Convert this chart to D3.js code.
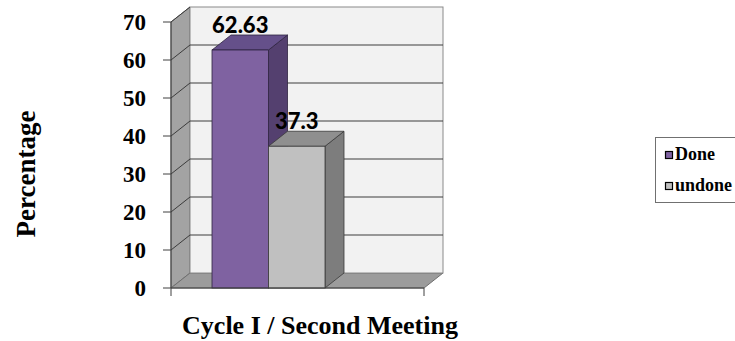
<!DOCTYPE html>
<html>
<head>
<meta charset="utf-8">
<script src="https://cdn.jsdelivr.net/npm/d3@7"></script>
<style>
  html, body { margin: 0; padding: 0; background: #ffffff; }
  svg { display: block; }
  svg text { font-family: "Liberation Serif", "Times New Roman", Times, serif; font-weight: 700; }
  svg text.value { font-family: Lato, "Open Sans", sans-serif; font-weight: 900; }
</style>
</head>
<body>
<svg id="chart" width="735" height="341"></svg>
<script>
// Chart data
const categories = ["Cycle I / Second Meeting"];
const seriesNames = ["Done", "undone"];
const seriesValues = [62.63, 37.3];
const yTicks = [0, 10, 20, 30, 40, 50, 60, 70];
const yTitle = "Percentage";

// Face colours per series: front, top, side
const faceColors = {
  "Done":   { front: "#7f62a1", top: "#65508a", side: "#54406f", stroke: "#2e2340" },
  "undone": { front: "#c0c0c0", top: "#8f8f8f", side: "#7d7d7d", stroke: "#3a3a3a" }
};

const svg = d3.select("#chart");

// Front plane of the 3-D plot box and its depth offset
const plot = { left: 171, right: 424, top: 22, bottom: 288 };
const depth = { dx: 19, dy: -15 };

const y = d3.scaleLinear().domain([0, 70]).range([plot.bottom, plot.top]);
const xCat = d3.scaleBand().domain(categories).range([plot.left, plot.right]);
const xSeries = d3.scaleBand()
  .domain(seriesNames)
  .range([xCat(categories[0]) + 41, xCat(categories[0]) + 41 + 113]);

const poly = pts => pts.map(p => p.join(",")).join(" ");

// Side wall (left)
svg.append("polygon")
  .attr("points", poly([
    [plot.left, y(70)], [plot.left + depth.dx, y(70) + depth.dy],
    [plot.left + depth.dx, y(0) + depth.dy], [plot.left, y(0)]
  ]))
  .attr("fill", "#a3a3a3").attr("stroke", "#6f6f6f").attr("stroke-width", 1);

// Floor
svg.append("polygon")
  .attr("points", poly([
    [plot.left, y(0)], [plot.right, y(0)],
    [plot.right + depth.dx, y(0) + depth.dy], [plot.left + depth.dx, y(0) + depth.dy]
  ]))
  .attr("fill", "#9c9c9c").attr("stroke", "#6f6f6f").attr("stroke-width", 1);

// Back wall
svg.append("rect")
  .attr("x", plot.left + depth.dx).attr("y", y(70) + depth.dy)
  .attr("width", plot.right - plot.left).attr("height", y(0) - y(70))
  .attr("fill", "#f2f2f2").attr("stroke", "#8a8a8a").attr("stroke-width", 1);

// Gridlines on back wall and their continuation across the side wall
const grid = yTicks.filter(v => v > 0 && v < 70);
svg.append("g").selectAll("line").data(grid).join("line")
  .attr("x1", plot.left + depth.dx).attr("x2", plot.right + depth.dx)
  .attr("y1", d => y(d) + depth.dy).attr("y2", d => y(d) + depth.dy)
  .attr("stroke", "#3c3c3c").attr("stroke-width", 1);
svg.append("g").selectAll("line").data(yTicks.filter(v => v > 0)).join("line")
  .attr("x1", plot.left).attr("x2", plot.left + depth.dx)
  .attr("y1", d => y(d)).attr("y2", d => y(d) + depth.dy)
  .attr("stroke", "#3c3c3c").attr("stroke-width", 1);

// Bars as 3-D boxes
const bars = seriesNames.map((name, i) => ({ name, value: seriesValues[i] }));
const barG = svg.append("g");
bars.forEach(d => {
  const x0 = xSeries(d.name), x1 = x0 + xSeries.bandwidth();
  const yt = y(d.value), yb = y(0);
  const c = faceColors[d.name];
  const g = barG.append("g");
  g.append("polygon") // side
    .attr("points", poly([[x1, yt], [x1 + depth.dx, yt + depth.dy], [x1 + depth.dx, yb + depth.dy], [x1, yb]]))
    .attr("fill", c.side).attr("stroke", c.stroke).attr("stroke-width", 0.8);
  g.append("polygon") // top
    .attr("points", poly([[x0, yt], [x0 + depth.dx, yt + depth.dy], [x1 + depth.dx, yt + depth.dy], [x1, yt]]))
    .attr("fill", c.top).attr("stroke", c.stroke).attr("stroke-width", 0.8);
  g.append("rect") // front
    .attr("x", x0).attr("y", yt).attr("width", x1 - x0).attr("height", yb - yt)
    .attr("fill", c.front).attr("stroke", c.stroke).attr("stroke-width", 0.8);
});

// Value labels
svg.append("g").selectAll("text").data(bars).join("text")
  .attr("class", "value")
  .attr("x", d => xSeries(d.name) + xSeries.bandwidth() / 2)
  .attr("y", d => y(d.value) - 17)
  .attr("text-anchor", "middle")
  .style("font-size", "22px")
  .attr("fill", "#000")
  .text(d => d.value);

// Y axis labels and ticks, drawn from the scale
const yg = svg.append("g");
yg.append("line")
  .attr("x1", plot.left).attr("x2", plot.left).attr("y1", y(70)).attr("y2", y(0))
  .attr("stroke", "#404040");
yg.selectAll("line.tick").data(yTicks).join("line")
  .attr("class", "tick")
  .attr("x1", plot.left - 8).attr("x2", plot.left)
  .attr("y1", d => y(d)).attr("y2", d => y(d))
  .attr("stroke", "#404040");
yg.selectAll("text").data(yTicks).join("text")
  .attr("x", plot.left - 25)
  .attr("y", d => y(d))
  .attr("dy", "0.36em")
  .attr("text-anchor", "end")
  .style("font-size", "23px")
  .text(d => d);

// X axis line with end ticks
const xg = svg.append("g").attr("stroke", "#404040").attr("stroke-width", 1);
xg.append("line").attr("x1", plot.left).attr("x2", plot.right).attr("y1", y(0)).attr("y2", y(0));
xg.selectAll("line.tk").data(xCat.range()).join("line")
  .attr("x1", d => d).attr("x2", d => d).attr("y1", y(0)).attr("y2", y(0) + 8);

// Axis titles
svg.append("text")
  .attr("x", 320).attr("y", 334)
  .attr("text-anchor", "middle")
  .style("font-size", "26px")
  .text(categories[0]);

svg.append("text")
  .attr("transform", "translate(35,174) rotate(-90)")
  .attr("text-anchor", "middle")
  .style("font-size", "27px")
  .text(yTitle);

// Legend
const legend = svg.append("g");
legend.append("rect")
  .attr("x", 655.5).attr("y", 137.5).attr("width", 90).attr("height", 65)
  .attr("fill", "#fff").attr("stroke", "#707070").attr("stroke-width", 1);
legend.selectAll("rect.key").data(seriesNames).join("rect")
  .attr("class", "key")
  .attr("x", 665.5).attr("y", (d, i) => 151.5 + i * 31)
  .attr("width", 7).attr("height", 7)
  .attr("fill", d => faceColors[d].front).attr("stroke", "#000").attr("stroke-width", 1.2);
legend.selectAll("text").data(seriesNames).join("text")
  .attr("x", 675).attr("y", (d, i) => 160 + i * 31)
  .style("font-size", "18px")
  .text(d => d);
</script>
</body>
</html>
